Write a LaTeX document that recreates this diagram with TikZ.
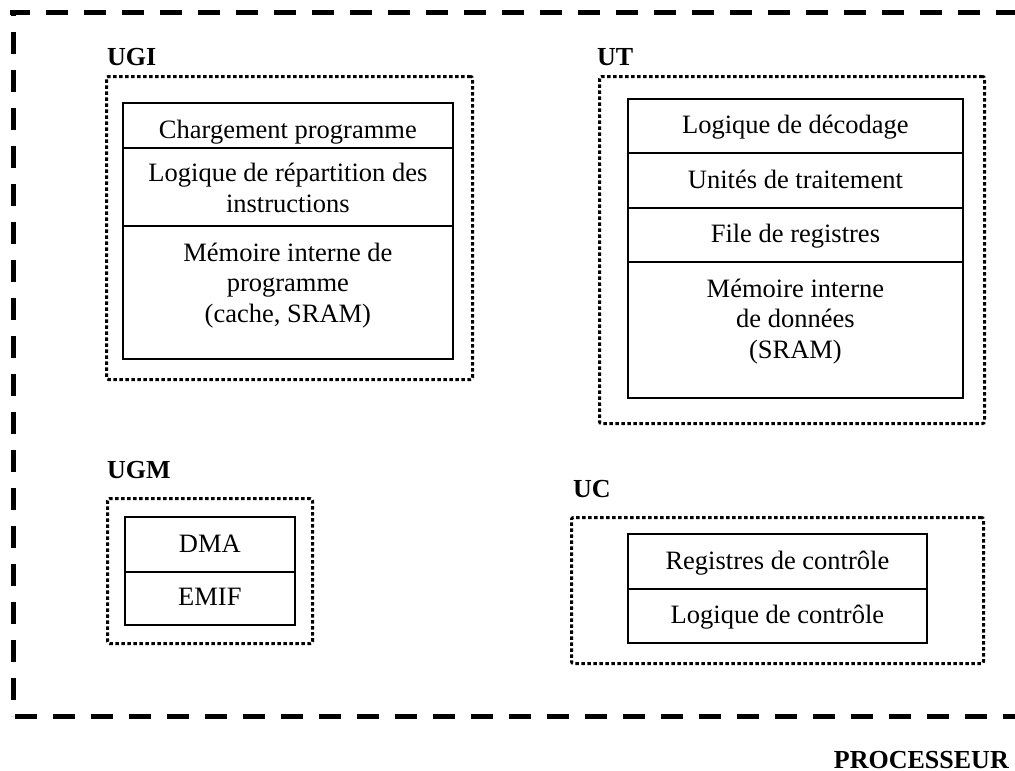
\documentclass[tikz,border=0pt]{standalone}
\usepackage{fontspec}
\setmainfont{Liberation Serif}
\begin{document}
\begin{tikzpicture}[x=1pt,y=-1pt,
  frame/.style={line width=5pt, dash pattern=on 22pt off 16pt},
  group/.style={draw, line width=3pt, dash pattern=on 3.5pt off 2.5pt, rounded corners=2pt, inner sep=0pt, anchor=north west},
  cell/.style={draw, line width=1.8pt, inner sep=0pt, anchor=north west},
  txt/.style={font=\fontsize{26.5}{30.5}\selectfont, anchor=base, inner sep=0pt, align=center},
  lbl/.style={font=\fontsize{26}{30}\selectfont\bfseries, inner sep=0pt}]
\useasboundingbox (0,0) rectangle (1015,771);

% outer processor frame (right side lies beyond the picture)
\coordinate (tl) at (13,12.5);
\coordinate (tr) at (1015,12.5);
\coordinate (bl) at (13,716);
\coordinate (bls) at (15,716);
\coordinate (br) at (1015,716);
\draw[frame, dash phase=2pt] (10,12.5) -- (tr);
\draw[frame, dash phase=18.5pt] (tl) -- (bl);
\draw[frame] (bls) -- (br);

% groups
\node[group, minimum width=366pt, minimum height=303pt] (ugi) at (105,75) {};
\node[group, minimum width=385pt, minimum height=347pt] (ut) at (598,75) {};
\node[group, minimum width=205pt, minimum height=145pt] (ugm) at (106,497) {};
\node[group, minimum width=412pt, minimum height=146pt] (uc) at (570,516) {};

% group labels
\node[lbl, anchor=base west] (lugi) at (107,65) {UGI};
\node[lbl, anchor=base west] (lut) at (597,65) {UT};
\node[lbl, anchor=base west] (lugm) at (107,478) {UGM};
\node[lbl, anchor=base west] (luc) at (573,497) {UC};
\node[lbl, anchor=base east] (lproc) at (1009,768) {PROCESSEUR};

% UGI cells
\node[cell, minimum width=330pt, minimum height=45pt] (ugiA) at (122,102) {};
\node[cell, minimum width=330pt, minimum height=78pt] (ugiB) at (122,147) {};
\node[cell, minimum width=330pt, minimum height=133pt] (ugiC) at (122,225) {};
\node[txt, yshift=-36pt] (ugiAt) at (ugiA.north) {Chargement programme};
\node[txt, yshift=-65pt] (ugiBt) at (ugiB.north) {Logique de répartition des\\instructions};
\node[txt, yshift=-97pt] (ugiCt) at (ugiC.north) {Mémoire interne de\\programme\\(cache, SRAM)};

% UT cells
\node[cell, minimum width=335pt, minimum height=54pt] (utA) at (627,98) {};
\node[cell, minimum width=335pt, minimum height=55pt] (utB) at (627,152) {};
\node[cell, minimum width=335pt, minimum height=54pt] (utC) at (627,207) {};
\node[cell, minimum width=335pt, minimum height=136pt] (utD) at (627,261) {};
\node[txt, yshift=-35pt] (utAt) at (utA.north) {Logique de décodage};
\node[txt, yshift=-36pt] (utBt) at (utB.north) {Unités de traitement};
\node[txt, yshift=-35pt] (utCt) at (utC.north) {File de registres};
\node[txt, yshift=-97pt] (utDt) at (utD.north) {Mémoire interne\\de données\\(SRAM)};

% UGM cells
\node[cell, minimum width=170pt, minimum height=55pt] (ugmA) at (124,516) {};
\node[cell, minimum width=170pt, minimum height=53pt] (ugmB) at (124,571) {};
\node[txt, yshift=-36pt] (ugmAt) at (ugmA.north) {DMA};
\node[txt, yshift=-34pt] (ugmBt) at (ugmB.north) {EMIF};

% UC cells
\node[cell, minimum width=299pt, minimum height=55pt] (ucA) at (627,533) {};
\node[cell, minimum width=299pt, minimum height=54pt] (ucB) at (627,588) {};
\node[txt, yshift=-36pt] (ucAt) at (ucA.north) {Registres de contrôle};
\node[txt, yshift=-35pt] (ucBt) at (ucB.north) {Logique de contrôle};
\end{tikzpicture}
\end{document}
